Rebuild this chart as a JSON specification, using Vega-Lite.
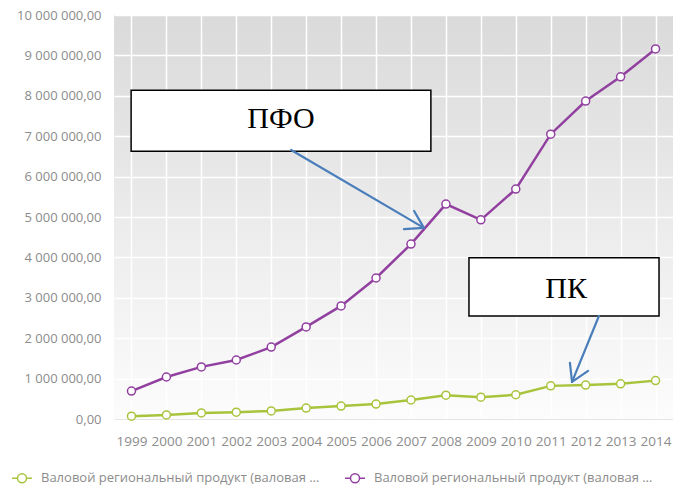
{
  "$schema": "https://vega.github.io/schema/vega-lite/v6.json",
  "width": 559,
  "height": 404,
  "padding": {"left": 11, "top": 9, "right": 1, "bottom": 0},
  "background": "white",
  "config": {
    "locale": {"number": {"decimal": ",", "thousands": " ", "grouping": [3], "currency": ["", ""]}},
    "view": {"stroke": null, "fill": {"gradient": "linear", "x1": 0, "y1": 0, "x2": 0, "y2": 1, "stops": [{"offset": 0, "color": "#dadada"}, {"offset": 1, "color": "#fcfcfc"}]}},
    "font": "Open Sans",
    "axis": {"labelColor": "#8c8c8c", "labelFontSize": 13, "labelFont": "Open Sans", "ticks": false, "domain": false, "gridColor": "#ffffff", "gridWidth": 1.5, "gridOpacity": 1, "title": null},
    "axisX": {"tickCount": 16, "format": "d", "labelPadding": 15, "labelFontSize": 13.5, "labelOverlap": false, "labelFlush": false, "domain": true, "domainColor": "#e4e4e4"},
    "axisY": {"format": ",.2f", "labelPadding": 13}
  },
  "data": {"values": [
    {"год": 1999, "ПФО": 690000, "ПК": 70000},
    {"год": 2000, "ПФО": 1040000, "ПК": 100000},
    {"год": 2001, "ПФО": 1290000, "ПК": 150000},
    {"год": 2002, "ПФО": 1460000, "ПК": 170000},
    {"год": 2003, "ПФО": 1780000, "ПК": 200000},
    {"год": 2004, "ПФО": 2280000, "ПК": 270000},
    {"год": 2005, "ПФО": 2800000, "ПК": 320000},
    {"год": 2006, "ПФО": 3490000, "ПК": 370000},
    {"год": 2007, "ПФО": 4330000, "ПК": 470000},
    {"год": 2008, "ПФО": 5320000, "ПК": 590000},
    {"год": 2009, "ПФО": 4930000, "ПК": 540000},
    {"год": 2010, "ПФО": 5690000, "ПК": 600000},
    {"год": 2011, "ПФО": 7050000, "ПК": 820000},
    {"год": 2012, "ПФО": 7870000, "ПК": 840000},
    {"год": 2013, "ПФО": 8470000, "ПК": 870000},
    {"год": 2014, "ПФО": 9160000, "ПК": 950000}
  ]},
  "layer": [
    {
      "transform": [
        {"fold": ["ПК", "ПФО"], "as": ["округ", "значение"]},
        {"calculate": "'Валовой региональный продукт (валовая добавленная стоимость), ' + datum['округ']", "as": "ряд"}
      ],
      "layer": [
        {
          "mark": {"type": "line", "strokeWidth": 2.5},
          "encoding": {
            "x": {"field": "год", "type": "quantitative", "scale": {"domain": [1998.5, 2014.5], "nice": false, "zero": false},
                  "axis": {"values": [1999,2000,2001,2002,2003,2004,2005,2006,2007,2008,2009,2010,2011,2012,2013,2014]}},
            "y": {"field": "значение", "type": "quantitative", "scale": {"domain": [0, 10000000], "nice": false},
                  "axis": {"values": [0,1000000,2000000,3000000,4000000,5000000,6000000,7000000,8000000,9000000,10000000]}},
            "stroke": {"field": "ряд", "type": "nominal",
              "scale": {"domain": ["Валовой региональный продукт (валовая добавленная стоимость), ПК", "Валовой региональный продукт (валовая добавленная стоимость), ПФО"], "range": ["#a8c43c", "#9140a0"]},
              "legend": {"orient": "none", "legendX": -103, "legendY": 452, "direction": "horizontal", "title": null,
                "labelColor": "#8c8c8c", "labelFontSize": 13, "labelLimit": 285, "columnPadding": 22,
                "symbolType": "M-1,0L-0.45,0M0.45,0L1,0M0.45,0A0.45,0.45,0,1,1,-0.45,0A0.45,0.45,0,1,1,0.45,0",
                "symbolSize": 400, "symbolStrokeWidth": 1.5, "symbolFillColor": "white", "labelOffset": 8}},
            "order": {"field": "год"}
          }
        },
        {
          "mark": {"type": "point", "filled": false, "fill": "white", "fillOpacity": 1, "size": 64, "strokeWidth": 1.5, "opacity": 1},
          "encoding": {
            "x": {"field": "год", "type": "quantitative", "axis": {"values": [1999,2000,2001,2002,2003,2004,2005,2006,2007,2008,2009,2010,2011,2012,2013,2014]}},
            "y": {"field": "значение", "type": "quantitative", "axis": {"values": [0,1000000,2000000,3000000,4000000,5000000,6000000,7000000,8000000,9000000,10000000]}},
            "stroke": {"field": "ряд", "type": "nominal"}
          }
        }
      ]
    },
    {
      "data": {"values": [
        {"x1": 1998.99, "x2": 2007.57, "y1": 8140000, "y2": 6630000, "метка": "ПФО", "tx": 2003.28, "ty": 7420000},
        {"x1": 2008.66, "x2": 2014.1, "y1": 3990000, "y2": 2550000, "метка": "ПК", "tx": 2011.44, "ty": 3220000}
      ]},
      "layer": [
        {"mark": {"type": "rect", "fill": "white", "stroke": "#000000", "strokeWidth": 1.5},
         "encoding": {"x": {"field": "x1", "type": "quantitative", "axis": {"values": [1999,2000,2001,2002,2003,2004,2005,2006,2007,2008,2009,2010,2011,2012,2013,2014]}}, "x2": {"field": "x2"}, "y": {"field": "y1", "type": "quantitative", "axis": {"values": [0,1000000,2000000,3000000,4000000,5000000,6000000,7000000,8000000,9000000,10000000]}}, "y2": {"field": "y2"}}},
        {"mark": {"type": "text", "font": "Liberation Serif", "fontSize": 30, "color": "#000000", "align": "center", "baseline": "middle"},
         "encoding": {"x": {"field": "tx", "type": "quantitative", "axis": {"values": [1999,2000,2001,2002,2003,2004,2005,2006,2007,2008,2009,2010,2011,2012,2013,2014]}}, "y": {"field": "ty", "type": "quantitative", "axis": {"values": [0,1000000,2000000,3000000,4000000,5000000,6000000,7000000,8000000,9000000,10000000]}}, "text": {"field": "метка"}}}
      ]
    },
    {
      "data": {"values": [
        {"x1": 2003.57, "y1": 6660000, "x2": 2007.37, "y2": 4730000},
        {"x1": 2007.09, "y1": 5150000, "x2": 2007.37, "y2": 4730000},
        {"x1": 2006.80, "y1": 4700000, "x2": 2007.37, "y2": 4730000},
        {"x1": 2012.38, "y1": 2550000, "x2": 2011.61, "y2": 920000},
        {"x1": 2011.55, "y1": 1390000, "x2": 2011.61, "y2": 920000},
        {"x1": 2012.07, "y1": 1190000, "x2": 2011.61, "y2": 920000}
      ]},
      "mark": {"type": "rule", "color": "#4a7ebb", "strokeWidth": 2.2, "strokeCap": "round"},
      "encoding": {"x": {"field": "x1", "type": "quantitative", "axis": {"values": [1999,2000,2001,2002,2003,2004,2005,2006,2007,2008,2009,2010,2011,2012,2013,2014]}}, "x2": {"field": "x2"}, "y": {"field": "y1", "type": "quantitative", "axis": {"values": [0,1000000,2000000,3000000,4000000,5000000,6000000,7000000,8000000,9000000,10000000]}}, "y2": {"field": "y2"}}
    }
  ]
}
